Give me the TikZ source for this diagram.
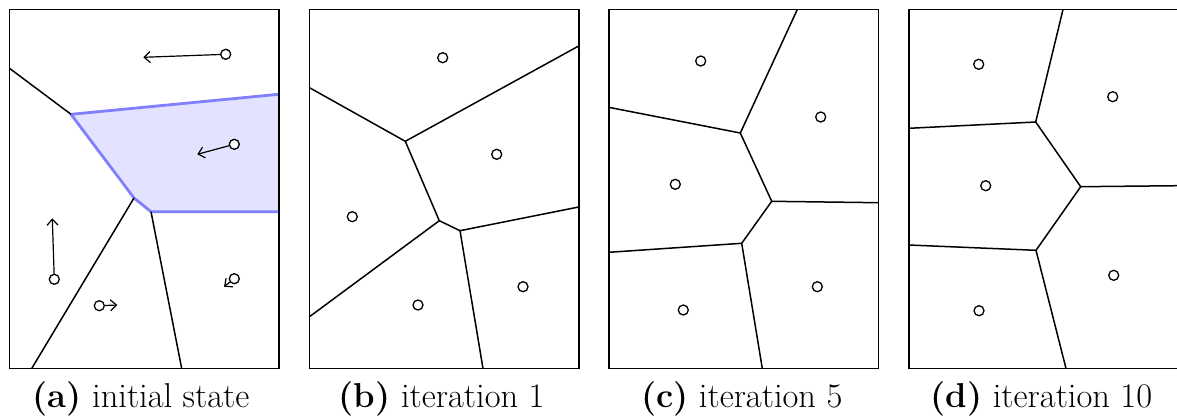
\documentclass[tikz,border=0pt]{standalone}
\usepackage{tikz}
\usetikzlibrary{arrows.meta}
\tikzset{
  frame/.style={draw,line width=1.6pt},
  edge/.style={line width=1.5pt},
  site/.style={draw,circle,line width=1.3pt,minimum size=10pt,inner sep=0pt,fill=white},
  mv/.style={-{Straight Barb[length=6pt,width=11pt]},line width=1.2pt,shorten <=-0.5pt},
  hlfill/.style={fill=blue!11},
  hl/.style={draw=blue!50,line width=2.8pt,line join=round},
  subcap/.style={anchor=base,font=\fontsize{34.5}{40}\selectfont},
}

\begin{document}
\begin{tikzpicture}[x=1pt,y=-1pt]
 \useasboundingbox (0,0) rectangle (1177,418);
 % (a) initial state
 \coordinate (a1) at (71,114.3);
 \coordinate (a2) at (278.5,94.3);
 \coordinate (a3) at (278.5,211.7);
 \coordinate (a4) at (151,211.7);
 \coordinate (a5) at (134,198);
 \fill[hlfill] (a1)--(a2)--(a3)--(a4)--(a5)--cycle;
 \draw[hl] (a2)--(a1)--(a5)--(a4)--(a3);
 \draw[edge] (9.5,68.3) coordinate (al) -- (a1);
 \draw[edge] (a5) -- (31.7,368.5) coordinate (ab1);
 \draw[edge] (a4) -- (181.7,368.5) coordinate (ab2);
 \node[site] (sa1) at (225.7,54.3) {};
 \node[site] (sa2) at (234.3,144.3) {};
 \node[site] (sa3) at (54.3,279.3) {};
 \node[site] (sa4) at (99.3,305.7) {};
 \node[site] (sa5) at (234.3,278.7) {};
 \coordinate (ta1) at (143.3,57.3);
 \coordinate (ta2) at (197.3,154.3);
 \coordinate (ta3) at (52.3,218.3);
 \coordinate (ta4) at (117.3,305);
 \coordinate (ta5) at (224,286.7);
 \foreach \i in {1,...,5}
   \draw[mv] (sa\i) -- (ta\i);
 \draw[frame] (9.5,9.5) rectangle (279,368.5);
 \node[subcap] (capa) at (141,407.3) {\textbf{(a)} initial state};

 % (b) iteration 1
 \coordinate (b1) at (405.3,141.3);
 \coordinate (b2) at (439.3,220.7);
 \coordinate (b3) at (460,230.7);
 \draw[edge] (309.5,87.7) -- (b1) -- (578.7,46);
 \draw[edge] (b1) -- (b2) -- (b3);
 \draw[edge] (b2) -- (309.5,316.7);
 \draw[edge] (578.7,207) -- (b3) -- (483,368.5);
 \foreach \n/\p in {1/{442.7,57.7},2/{496.7,154.3},3/{352.3,216.7},4/{418,305},5/{523,286.7}}
   \node[site] (sb\n) at (\p) {};
 \draw[frame] (309.5,9.5) rectangle (579,368.5);
 \node[subcap] (capb) at (441.7,407.3) {\textbf{(b)} iteration 1};

 % (c) iteration 5
 \coordinate (c1) at (740.3,133);
 \coordinate (c2) at (771.7,201.3);
 \coordinate (c3) at (741.7,243.3);
 \draw[edge] (797.3,9.5) -- (c1) -- (608.7,107.3);
 \draw[edge] (c1) -- (c2) -- (c3);
 \draw[edge] (c2) -- (878.5,202.7);
 \draw[edge] (608.7,252.3) -- (c3) -- (762.3,368.5);
 \foreach \n/\p in {1/{700.7,61},2/{820.7,117},3/{675.3,184.3},4/{817.3,286.7},5/{683.3,310}}
   \node[site] (sc\n) at (\p) {};
 \draw[frame] (608.7,9.5) rectangle (878.5,368.5);
 \node[subcap] (capc) at (741.7,407.3) {\textbf{(c)} iteration 5};

 % (d) iteration 10
 \coordinate (d1) at (1035.7,122);
 \coordinate (d2) at (1080.7,186.7);
 \coordinate (d3) at (1036,250.3);
 \draw[edge] (1063,9.5) -- (d1) -- (908.7,128.3);
 \draw[edge] (d1) -- (d2) -- (d3);
 \draw[edge] (d2) -- (1178,185.7);
 \draw[edge] (908.7,245) -- (d3) -- (1066,368.5);
 \foreach \n/\p in {1/{978.7,64.3},2/{1112.7,96.7},3/{985.7,185.7},4/{1113.7,275.3},5/{979,310.7}}
   \node[site] (sd\n) at (\p) {};
 \draw[frame] (908.7,9.5) rectangle (1178.2,368.5);
 \node[subcap] (capd) at (1041.4,407.3) {\textbf{(d)} iteration 10};
\end{tikzpicture}
\end{document}
